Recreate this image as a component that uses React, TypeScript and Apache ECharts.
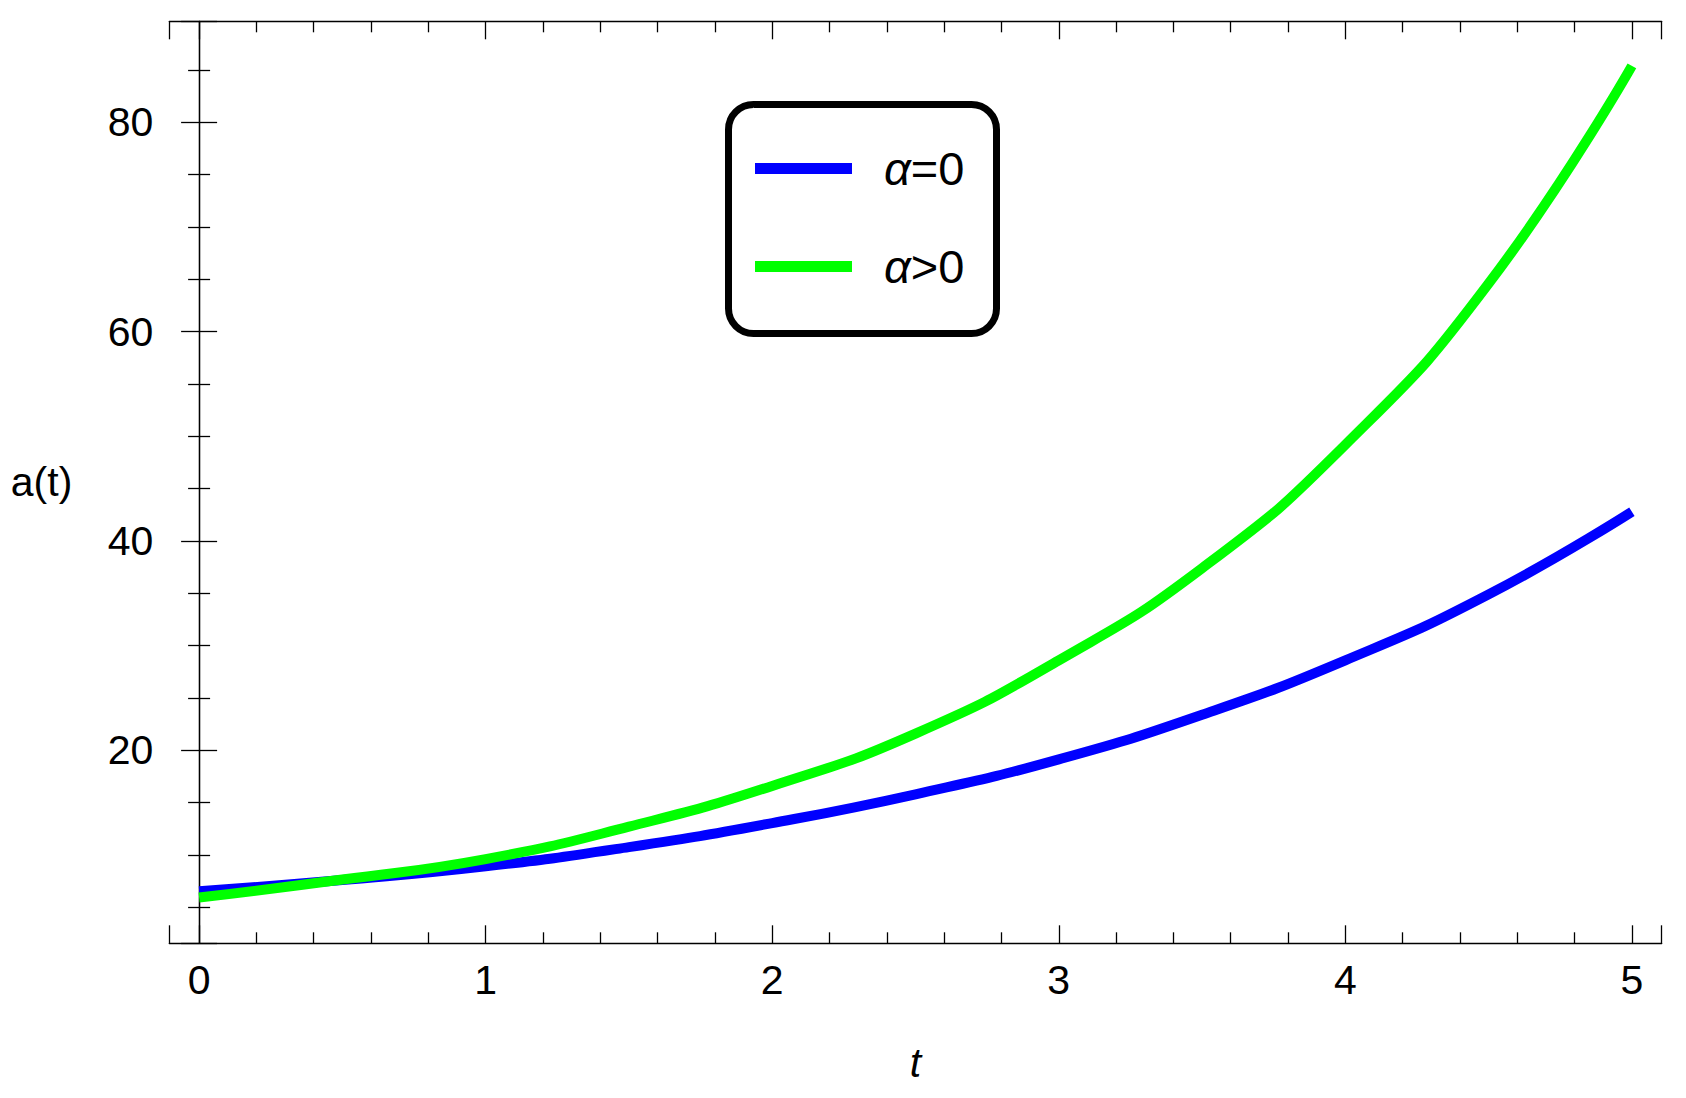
import React, { useEffect, useRef } from "react";
import * as echarts from "echarts";

const T = [0, 0.5, 1, 1.5, 2, 2.5, 3, 3.5, 4, 4.5, 5];
const alphaZero = [6.54, 7.6, 8.91, 10.75, 13.05, 15.8, 19.14, 23.4, 28.6, 34.9, 42.8];
const alphaPositive = [5.93, 7.65, 9.61, 12.7, 16.6, 21.6, 28.6, 37.4, 49.2, 64.6, 85.4];
const seriesNames = ["α=0", "α>0"];
const xRange = [-0.104, 5.104];
const yRange = [1.56, 89.66];

const FONT = "'Liberation Sans', Arial, sans-serif";

export default function App() {
  const ref = useRef<HTMLDivElement>(null);
  useEffect(() => {
    if (!ref.current) return;
    const chart = echarts.init(ref.current, null, { renderer: "svg" });
    const axisLine = { show: true, lineStyle: { color: "#000", width: 1.3 } };
    const majorTick = { show: true, inside: true, length: 18, lineStyle: { color: "#000", width: 1.3 } };
    const minorTickX = { show: true, splitNumber: 5, length: 11, lineStyle: { color: "#000", width: 1.3 } };
    const minorTickY = { show: true, splitNumber: 4, length: 11, lineStyle: { color: "#000", width: 1.3 } };
    const label = {
      show: true,
      color: "#000",
      fontFamily: FONT,
      fontSize: 41,
      showMinLabel: false,
      showMaxLabel: false,
    };
    const toData = (vals: number[]) => T.map((t, i) => [t, vals[i]]);
    chart.setOption({
      animation: false,
      backgroundColor: "#fff",
      grid: { left: 169.3, top: 21.3, right: 24.3, bottom: 154.7, containLabel: false },
      xAxis: [
        {
          type: "value",
          position: "bottom",
          min: xRange[0],
          max: xRange[1],
          splitNumber: 5,
          axisLine,
          axisTick: majorTick,
          minorTick: minorTickX,
          splitLine: { show: false },
          axisLabel: { ...label, margin: 16 },
          name: "t",
          nameLocation: "middle",
          nameGap: 99,
          nameTextStyle: { fontFamily: FONT, fontSize: 41, fontStyle: "italic", color: "#000" },
        },
        {
          type: "value",
          position: "top",
          min: xRange[0],
          max: xRange[1],
          splitNumber: 5,
          axisLine,
          axisTick: majorTick,
          minorTick: minorTickX,
          splitLine: { show: false },
          axisLabel: { show: false },
        },
      ],
      yAxis: [
        {
          type: "value",
          position: "left",
          min: yRange[0],
          max: yRange[1],
          splitNumber: 5,
          axisLine,
          axisTick: majorTick,
          minorTick: minorTickY,
          splitLine: { show: false },
          axisLabel: { ...label, margin: 16 },
          name: "a(t)",
          nameLocation: "middle",
          nameRotate: 0,
          nameGap: 97,
          nameTextStyle: { fontFamily: FONT, fontSize: 41, color: "#000" },
        },
        {
          type: "value",
          position: "right",
          min: yRange[0],
          max: yRange[1],
          splitNumber: 5,
          axisLine,
          axisTick: majorTick,
          minorTick: minorTickY,
          splitLine: { show: false },
          axisLabel: { show: false },
        },
      ],
      legend: {
        show: true,
        z: 20,
        zlevel: 0,
        orient: "vertical",
        left: 755,
        top: 143.5,
        padding: 0,
        itemGap: 48,
        itemWidth: 97,
        itemHeight: 11,
        icon: "rect",
        data: seriesNames,
        formatter: (name: string) => `{a|α}{b|${name.slice(1)}}`,
        textStyle: {
          color: "#000",
          fontFamily: FONT,
          fontSize: 47,
          lineHeight: 50,
          padding: [0, 0, 0, 27],
          rich: {
            a: { fontFamily: FONT, fontSize: 47, fontStyle: "italic", color: "#000", lineHeight: 50 },
            b: { fontFamily: FONT, fontSize: 47, color: "#000", lineHeight: 50 },
          },
        },
      },
      graphic: [
        {
          type: "rect",
          z: 1,
          zlevel: 0,
          shape: { x: 728.5, y: 104.5, width: 268, height: 229, r: 25 },
          style: { fill: "#fff", stroke: "#000", lineWidth: 7 },
        },
      ],
      series: [
        {
          name: seriesNames[0],
          type: "line",
          xAxisIndex: 0,
          yAxisIndex: 0,
          data: toData(alphaZero),
          showSymbol: false,
          smooth: 0.5,
          color: "#0000ff",
          lineStyle: { color: "#0000ff", width: 10 },
          z: 2,
        },
        {
          name: seriesNames[1],
          type: "line",
          xAxisIndex: 0,
          yAxisIndex: 0,
          data: toData(alphaPositive),
          showSymbol: false,
          smooth: 0.5,
          color: "#00ff00",
          lineStyle: { color: "#00ff00", width: 10 },
          z: 3,
        },
      ],
    });
    return () => chart.dispose();
  }, []);
  return (
    <div
      ref={ref}
      style={{ position: "absolute", left: 0, top: 0, width: 1686, height: 1098 }}
    />
  );
}
